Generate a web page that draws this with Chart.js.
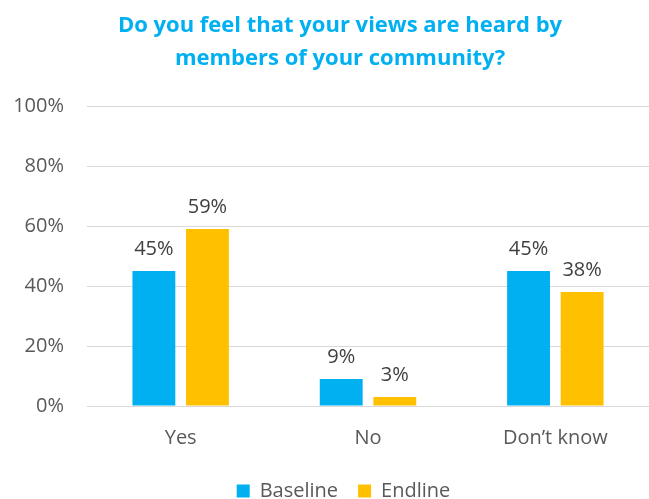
<!DOCTYPE html>
<html>
<head>
<meta charset="utf-8">
<script src="https://cdn.jsdelivr.net/npm/chart.js@4"></script>
<style>
  body { margin: 0; background: #fff; }
  #wrap { width: 649px; height: 499px; }
</style>
</head>
<body>
<div id="wrap"><canvas id="barChart"></canvas></div>
<script>
const categories = ['Yes', 'No', 'Don\u2019t know'];
const baseline = [45, 9, 45];
const endline = [59, 3, 38];
const yTicks = [0, 20, 40, 60, 80, 100];

// draws the % labels above each bar
const barLabels = {
    id: 'barLabels',
    afterDatasetsDraw(chart) {
        const ctx = chart.ctx;
        ctx.save();
        ctx.font = '20px "Open Sans"';
        ctx.fillStyle = '#404040';
        ctx.textAlign = 'center';
        ctx.textBaseline = 'bottom';
        chart.data.datasets.forEach((ds, i) => {
            chart.getDatasetMeta(i).data.forEach((bar, j) => {
                ctx.fillText(ds.data[j] + '%', bar.x, bar.y - 12);
            });
        });
        ctx.restore();
    }
};

// title and legend sit a bit right of the canvas centre in the original
const shiftHeader = {
    id: 'shiftHeader',
    afterLayout(chart) {
        if (chart.titleBlock) chart.titleBlock.left = 31;
        if (chart.legend) chart.legend.left = 38;
    }
};

new Chart(document.getElementById('barChart'), {
    type: 'bar',
    data: {
        labels: categories,
        datasets: [
            { label: 'Baseline', data: baseline, backgroundColor: '#00B0F0' },
            { label: 'Endline', data: endline, backgroundColor: '#FFC000' }
        ]
    },
    plugins: [barLabels, shiftHeader],
    options: {
        responsive: true,
        maintainAspectRatio: false,
        animation: false,
        categoryPercentage: 0.572,
        barPercentage: 0.8,
        layout: { padding: { left: 0, right: 0, top: 9, bottom: -12 } },
        scales: {
            x: {
                grid: { display: false },
                border: { color: '#d9d9d9', width: 1 },
                ticks: {
                    color: '#595959',
                    font: { family: 'Open Sans', size: 20 },
                    padding: 12
                },
                afterFit(axis) { axis.height = 55; }
            },
            y: {
                min: 0,
                max: 100,
                afterBuildTicks(axis) {
                    axis.ticks = yTicks.map(v => ({ value: v }));
                },
                border: { display: false },
                grid: { color: '#d9d9d9', drawTicks: false },
                ticks: {
                    color: '#595959',
                    font: { family: 'Open Sans', size: 20 },
                    padding: 23,
                    callback: v => v + '%'
                },
                afterFit(axis) { axis.width = 87; }
            }
        },
        plugins: {
            title: {
                display: true,
                text: ['Do you feel that your views are heard by', 'members of your community?'],
                color: '#00B0F0',
                font: { family: 'Open Sans', size: 22, weight: 'bold', lineHeight: 1.5 },
                padding: { top: 0, bottom: 31 }
            },
            legend: {
                position: 'bottom',
                labels: {
                    color: '#595959',
                    font: { family: 'Open Sans', size: 20 },
                    boxWidth: 13,
                    boxHeight: 13,
                    padding: 20
                }
            },
            tooltip: { enabled: false }
        }
    }
});
</script>
</body>
</html>
